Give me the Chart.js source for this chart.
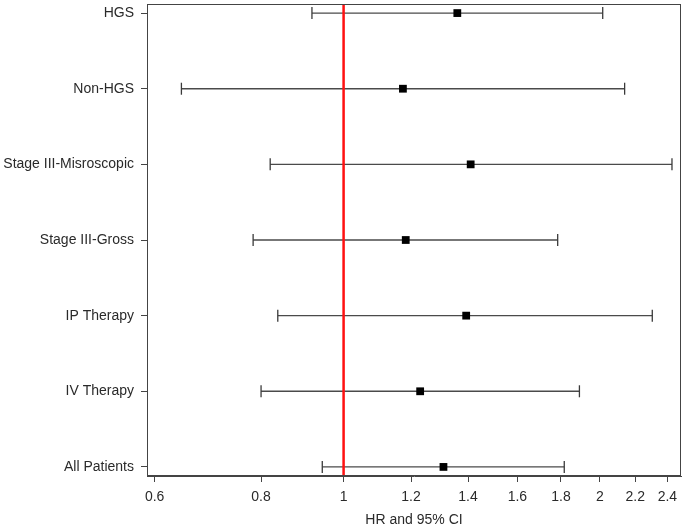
<!DOCTYPE html>
<html>
<head>
<meta charset="utf-8">
<script src="https://cdn.jsdelivr.net/npm/chart.js@4"></script>
<style>
html,body{margin:0;padding:0;background:#fff;}
#wrap{width:686px;height:531px;position:relative;}
</style>
</head>
<body>
<div id="wrap"><canvas id="c"></canvas></div>
<script>
const categories = ['HGS','Non-HGS','Stage III-Misroscopic','Stage III-Gross','IP Therapy','IV Therapy','All Patients'];
const hr    = [1.36, 1.174, 1.41, 1.183, 1.393, 1.23, 1.31];
const lower = [0.918, 0.645, 0.82, 0.783, 0.837, 0.80, 0.944];
const upper = [2.015, 2.138, 2.43, 1.784, 2.304, 1.892, 1.816];
const xTicks = [0.6, 0.8, 1, 1.2, 1.4, 1.6, 1.8, 2, 2.2, 2.4];
const refValue = 1;
const xTitle = 'HR and 95% CI';

const FONT = {family: '"Liberation Sans", Arial, sans-serif', size: 14};
const TEXT = '#2a2a2a';
const FRAME = '#444';

const yMin = -0.12, yMax = categories.length - 1 + 0.12;

const datasets = [];
// HR markers
datasets.push({
  type: 'scatter',
  data: hr.map((v, i) => ({x: v, y: i})),
  pointStyle: 'rect',
  pointRadius: 5.5,
  backgroundColor: '#000',
  borderColor: '#000',
  borderWidth: 0,
  order: 0
});
// reference line
datasets.push({
  type: 'line',
  data: [{x: refValue, y: yMin}, {x: refValue, y: yMax}],
  borderColor: '#ff1111',
  borderWidth: 2.5,
  pointRadius: 0,
  order: 1
});
// CI bars with caps
categories.forEach((c, i) => {
  datasets.push({
    type: 'line',
    data: [{x: lower[i], y: i}, {x: upper[i], y: i}],
    borderColor: '#4a4a4a',
    borderWidth: 1.4,
    pointStyle: 'line',
    pointRotation: 90,
    pointRadius: 6,
    pointBorderColor: '#3a3a3a',
    pointBorderWidth: 1.3,
    order: 2
  });
});

const framePlugin = {
  id: 'frame',
  afterDatasetsDraw(chart) {
    const a = chart.chartArea, ctx = chart.ctx;
    ctx.save();
    ctx.strokeStyle = FRAME;
    ctx.lineWidth = 1;
    ctx.strokeRect(a.left + 0.5, a.top + 0.5, a.right - a.left - 1, a.bottom - a.top - 1);
    ctx.restore();
  }
};

new Chart(document.getElementById('c'), {
  type: 'scatter',
  data: {datasets},
  plugins: [framePlugin],
  options: {
    responsive: true,
    maintainAspectRatio: false,
    animation: false,
    layout: {autoPadding: false, padding: {left: 0, right: 5, top: 4, bottom: 0}},
    plugins: {legend: {display: false}, tooltip: {enabled: false}},
    scales: {
      x: {
        type: 'logarithmic',
        min: 0.5877,
        max: 2.49,
        afterBuildTicks: s => { s.ticks = xTicks.map(v => ({value: v})); },
        afterFit: s => { s.height = 55; s.paddingLeft = 0; s.paddingRight = 0; s.paddingTop = 0; s.paddingBottom = 0; },
        ticks: {
          autoSkip: false, maxRotation: 0, color: TEXT, font: FONT, padding: 7,
          callback: v => String(v)
        },
        grid: {drawOnChartArea: false, drawTicks: true, tickLength: 6, color: FRAME},
        border: {display: true, color: FRAME},
        title: {display: true, text: xTitle, color: TEXT, font: FONT, padding: {top: 4, bottom: 2}}
      },
      y: {
        type: 'linear',
        reverse: true,
        min: yMin,
        max: yMax,
        afterBuildTicks: s => { s.ticks = categories.map((c, i) => ({value: i})); },
        afterFit: s => { s.width = 147; s.paddingTop = 0; s.paddingBottom = 0; s.paddingLeft = 0; s.paddingRight = 0; },
        ticks: {
          autoSkip: false, color: TEXT, font: FONT, padding: 7,
          callback: v => categories[v]
        },
        grid: {drawOnChartArea: false, drawTicks: true, tickLength: 6, color: FRAME},
        border: {display: true, color: FRAME}
      }
    }
  }
});
</script>
</body>
</html>
